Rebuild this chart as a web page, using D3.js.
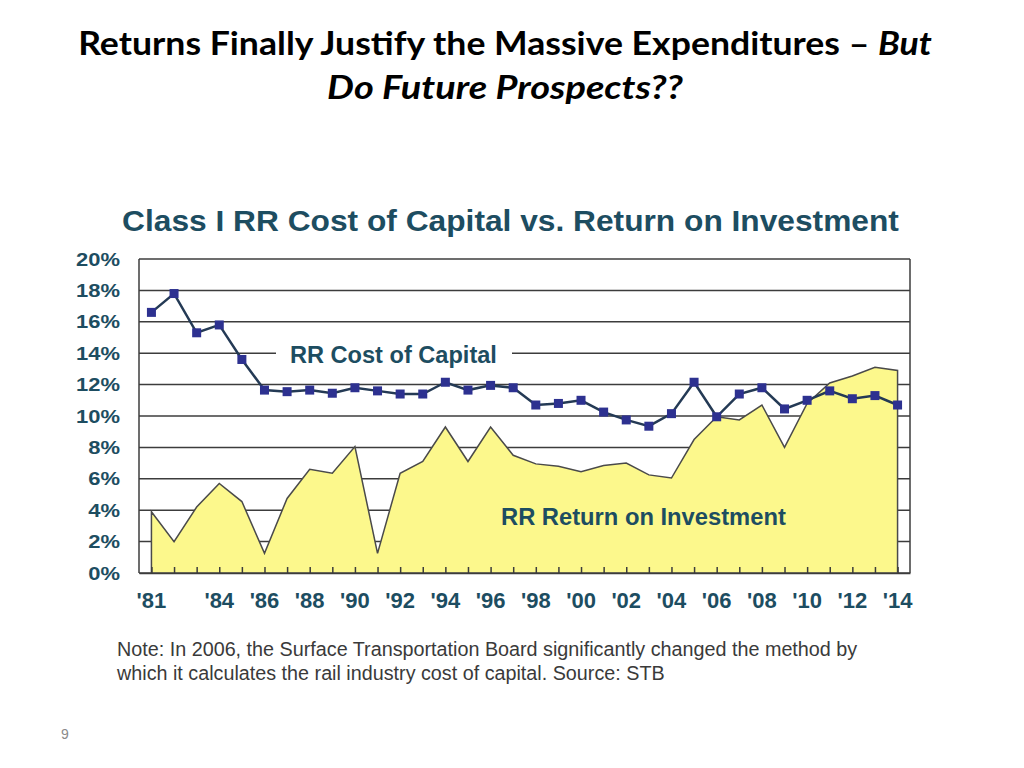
<!DOCTYPE html>
<html><head><meta charset="utf-8">
<script src="https://cdnjs.cloudflare.com/ajax/libs/d3/7.8.5/d3.min.js"></script>
<style>body{margin:0;background:#fff}</style>
</head><body><svg id="c" width="1024" height="768"></svg>
<script>
const years = [1981,1982,1983,1984,1985,1986,1987,1988,1989,1990,1991,1992,1993,1994,1995,1996,1997,1998,1999,2000,2001,2002,2003,2004,2005,2006,2007,2008,2009,2010,2011,2012,2013,2014];
const costOfCapital = [16.6,17.8,15.3,15.8,13.6,11.65,11.55,11.65,11.45,11.8,11.6,11.4,11.4,12.15,11.65,11.95,11.8,10.7,10.8,11.0,10.25,9.75,9.35,10.15,12.15,9.95,11.4,11.8,10.45,11.0,11.6,11.1,11.3,10.7];
const returnOnInvestment = [3.9,2.0,4.2,5.7,4.55,1.25,4.75,6.6,6.35,8.05,1.25,6.35,7.1,9.3,7.1,9.3,7.5,6.95,6.8,6.45,6.85,7.0,6.25,6.05,8.5,9.95,9.75,10.7,8.0,10.8,12.1,12.55,13.1,12.9];
const yTicks = [0,2,4,6,8,10,12,14,16,18,20];
const xTickYears = [1981,1984,1986,1988,1990,1992,1994,1996,1998,2000,2002,2004,2006,2008,2010,2012,2014];
const xTickLabels = ["'81","'84","'86","'88","'90","'92","'94","'96","'98","'00","'02","'04","'06","'08","'10","'12","'14"];

const svg = d3.select("#c");
const teal = "#1d4d61";
const PL = 139, PR = 910, PT = 259, PB = 573;

const x = d3.scalePoint().domain(years).range([PL, PR]).padding(0.55);
const y = d3.scaleLinear().domain([0, 20]).range([PB, PT]);

function hfit(t, ax, ay, w) {
  const bw = t.node().getComputedTextLength();
  const s = w / bw;
  t.attr("x", 0).attr("y", 0).attr("transform", `translate(${ax},${ay}) scale(${s},1)`);
}

// slide title
const t1 = svg.append("text").attr("text-anchor", "middle")
  .style("font-family", "Lato, 'Open Sans', sans-serif").style("font-weight", "700")
  .style("font-size", "33px").attr("fill", "#000");
t1.append("tspan").text("Returns Finally Justify the Massive Expenditures \u2013 ");
t1.append("tspan").style("font-style", "italic").text("But");
hfit(t1, 505, 55, 854);
const t2 = svg.append("text").attr("text-anchor", "middle")
  .style("font-family", "Lato, 'Open Sans', sans-serif").style("font-weight", "700")
  .style("font-style", "italic").style("font-size", "33px").attr("fill", "#000")
  .text("Do Future Prospects??");
hfit(t2, 505, 99, 356);

// chart title
const ct = svg.append("text").attr("text-anchor", "middle")
  .style("font-family", "'Liberation Sans', Arial, sans-serif").style("font-weight", "700")
  .style("font-size", "30px").attr("fill", teal)
  .text("Class I RR Cost of Capital vs. Return on Investment");
hfit(ct, 510.5, 231, 777);

// gridlines
svg.append("g").selectAll("line").data(yTicks).join("line")
  .attr("x1", PL).attr("x2", PR).attr("y1", d => y(d)).attr("y2", d => y(d))
  .attr("stroke", "#3c3c3c").attr("stroke-width", 1.5);
svg.append("line").attr("x1", PL).attr("x2", PL).attr("y1", y(20)).attr("y2", y(0)).attr("stroke", "#3c3c3c").attr("stroke-width", 1.5);
svg.append("line").attr("x1", PR).attr("x2", PR).attr("y1", y(20)).attr("y2", y(0)).attr("stroke", "#3c3c3c").attr("stroke-width", 1.5);

// area
const area = d3.area().x((d, i) => x(years[i])).y0(y(0)).y1(d => y(d));
svg.append("path").datum(returnOnInvestment).attr("d", area)
  .attr("fill", "#fcf88c").attr("stroke", "#4a4a4a").attr("stroke-width", 1.5);

// x ticks (inside, pointing up)
const xAxis = d3.axisBottom(x).tickSizeInner(-6).tickSizeOuter(0).tickFormat("");
const gx = svg.append("g").attr("transform", `translate(0,${PB})`).call(xAxis);
gx.select(".domain").attr("stroke", "#3c3c3c").attr("stroke-width", 1.5);
gx.selectAll(".tick line").attr("stroke", "#3c3c3c").attr("stroke-width", 1.5);

// x labels
xTickYears.forEach((yr, i) => {
  svg.append("text").attr("text-anchor", "middle")
    .style("font-family", "'Liberation Sans', Arial, sans-serif").style("font-weight", "700")
    .style("font-size", "22px").attr("fill", teal).text(xTickLabels[i])
    .attr("x", x(yr)).attr("y", 608);
});

// y labels
yTicks.forEach(v => {
  svg.append("text").attr("text-anchor", "end")
    .style("font-family", "'Liberation Sans', Arial, sans-serif").style("font-weight", "700")
    .style("font-size", "18px").attr("fill", teal).text(v + "%")
    .attr("x", 0).attr("y", 0).attr("transform", `translate(120,${y(v) + 6.5}) scale(1.22,1)`);
});

// cost of capital label with gridline break
svg.append("rect").attr("x", 276).attr("y", y(14) - 14).attr("width", 236).attr("height", 28).attr("fill", "#fff");
const l1 = svg.append("text").attr("text-anchor", "start")
  .style("font-family", "'Liberation Sans', Arial, sans-serif").style("font-weight", "700")
  .style("font-size", "24px").attr("fill", teal).text("RR Cost of Capital");
hfit(l1, 290, 363, 207);

// cost line
const line = d3.line().x((d, i) => x(years[i])).y(d => y(d));
svg.append("path").datum(costOfCapital).attr("d", line)
  .attr("fill", "none").attr("stroke", "#243a55").attr("stroke-width", 2.5);
svg.append("g").selectAll("rect").data(costOfCapital).join("rect")
  .attr("x", (d, i) => x(years[i]) - 4.5).attr("y", d => y(d) - 4.5)
  .attr("width", 9).attr("height", 9).attr("fill", "#2d3190");

// return label
const l2 = svg.append("text").attr("text-anchor", "start")
  .style("font-family", "'Liberation Sans', Arial, sans-serif").style("font-weight", "700")
  .style("font-size", "24px").attr("fill", teal).text("RR Return on Investment");
hfit(l2, 501, 525, 285);

// note
const n1 = svg.append("text").attr("text-anchor", "start")
  .style("font-family", "'Liberation Sans', Arial, sans-serif")
  .style("font-size", "21px").attr("fill", "#3a3a3a")
  .text("Note: In 2006, the Surface Transportation Board significantly changed the method by");
hfit(n1, 117, 656, 741);
const n2 = svg.append("text").attr("text-anchor", "start")
  .style("font-family", "'Liberation Sans', Arial, sans-serif")
  .style("font-size", "21px").attr("fill", "#3a3a3a")
  .text("which it calculates the rail industry cost of capital. Source: STB");
hfit(n2, 117, 680, 548);

// page number
svg.append("text").attr("x", 65).attr("y", 739).attr("text-anchor", "middle")
  .style("font-family", "'Liberation Sans', Arial, sans-serif").style("font-size", "14px")
  .attr("fill", "#8a8a8a").text("9");
</script></body></html>
